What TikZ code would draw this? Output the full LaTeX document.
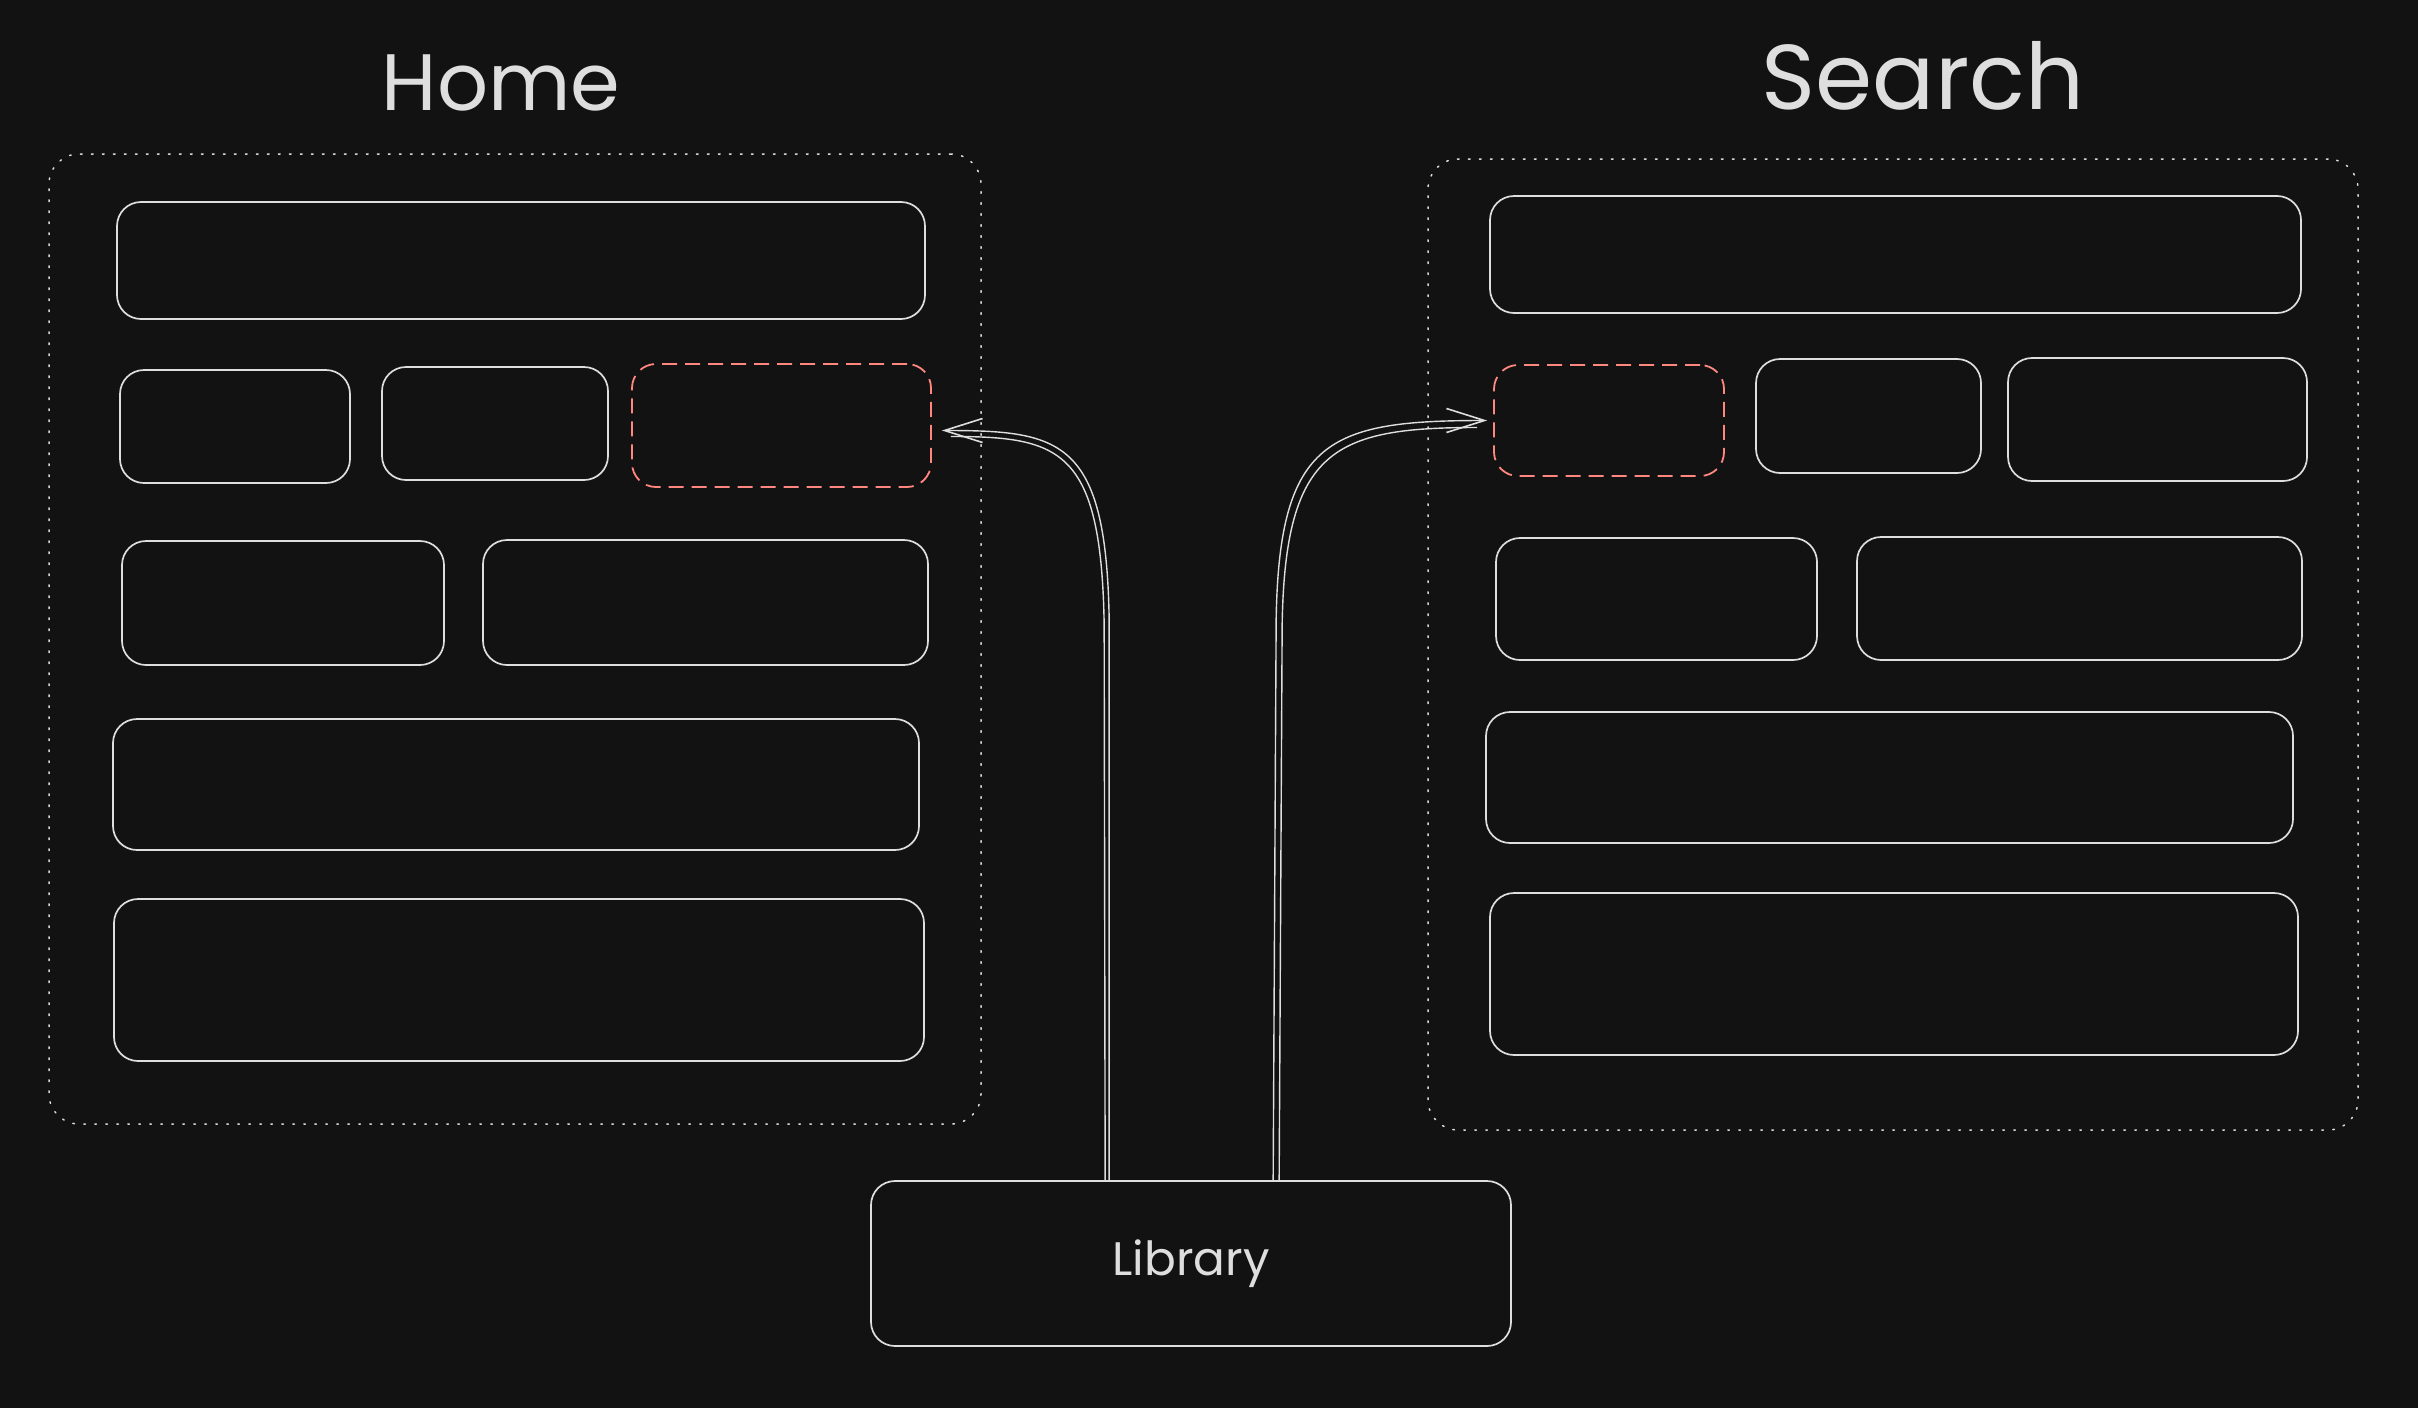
\documentclass[tikz,border=0pt]{standalone}
\usepackage{fontspec}
\setmainfont{Poppins}
\usetikzlibrary{arrows.meta,fit}
\definecolor{bg}{RGB}{18,18,18}
\definecolor{fg}{RGB}{222,222,222}
\definecolor{accent}{RGB}{255,135,128}
\begin{document}
\begin{tikzpicture}[x=0.5pt,y=-0.5pt,
  panel/.style={draw=fg, line width=0.75pt, dash pattern=on 0.8pt off 4.7pt, line cap=round, rounded corners=15pt, inner sep=0pt},
  box/.style={draw=fg, line width=0.85pt, rounded corners=12pt, inner sep=0pt},
  target/.style={draw=accent, line width=0.9pt, dash pattern=on 7.5pt off 4pt, rounded corners=12pt, inner sep=0pt},
  title/.style={text=fg},
  conn/.style={draw=fg, line width=0.7pt, -{Straight Barb[length=19pt,width=12pt,line width=0.8pt]}},
  stroke/.style={draw=fg, line width=0.7pt}]
\fill[bg] (0,0) rectangle (2418,1408);
\useasboundingbox (0,0) rectangle (2418,1408);

% titles
\node[title, font=\fontsize{40}{46}\selectfont] (home) at (501,83) {Home};
\node[title, font=\fontsize{46}{52}\selectfont] (search) at (1923,76) {Search};

% containers
\node[panel, fit={(49,154) (981,1124)}] (hp) {};
\node[panel, fit={(1428,159) (2358,1130)}] (sp) {};

% Home boxes
\node[box, fit={(117,202) (925,319)}] (h1) {};
\node[box, fit={(120,370) (350,483)}] (h2a) {};
\node[box, fit={(382,367) (608,480)}] (h2b) {};
\node[target, fit={(632,364) (931,487)}] (hd) {};
\node[box, fit={(122,541) (444,665)}] (h3a) {};
\node[box, fit={(483,540) (928,665)}] (h3b) {};
\node[box, fit={(113,719) (919,850)}] (h4) {};
\node[box, fit={(114,899) (924,1061)}] (h5) {};

% Search boxes
\node[box, fit={(1490,196) (2301,313)}] (s1) {};
\node[target, fit={(1494,365) (1724,476)}] (sd) {};
\node[box, fit={(1756,359) (1981,473)}] (s2b) {};
\node[box, fit={(2008,358) (2307,481)}] (s2c) {};
\node[box, fit={(1496,538) (1817,660)}] (s3a) {};
\node[box, fit={(1857,537) (2302,660)}] (s3b) {};
\node[box, fit={(1486,712) (2293,843)}] (s4) {};
\node[box, fit={(1490,893) (2298,1055)}] (s5) {};

% Library
\node[box, minimum width=320pt, minimum height=82.5pt, text=fg,
      font=\fontsize{23.5}{27}\selectfont] (lib) at (1191,1263.5) {\raisebox{-3pt}{Library}};

% connectors
\draw[conn] ([xshift=119.5pt]lib.north west) -- ++(0,-561)
  .. controls +(-3,-180) and +(119,0) .. ([xshift=5pt,yshift=-2.5pt]hd.east);
\draw[stroke] ([xshift=117.5pt]lib.north west) -- ++(-1,-556)
  .. controls +(-3,-175) and +(110,0) .. ([xshift=9.5pt,yshift=-5.5pt]hd.east);

\draw[conn] ([xshift=201.5pt]lib.north west) -- ++(3,-561)
  .. controls +(3,-180) and +(-158,0) .. ([xshift=-3pt]sd.west);
\draw[stroke] ([xshift=204.5pt]lib.north west) -- ++(3,-556)
  .. controls +(3,-175) and +(-143,0) .. ([xshift=-8pt,yshift=-3.5pt]sd.west);
\end{tikzpicture}
\end{document}
